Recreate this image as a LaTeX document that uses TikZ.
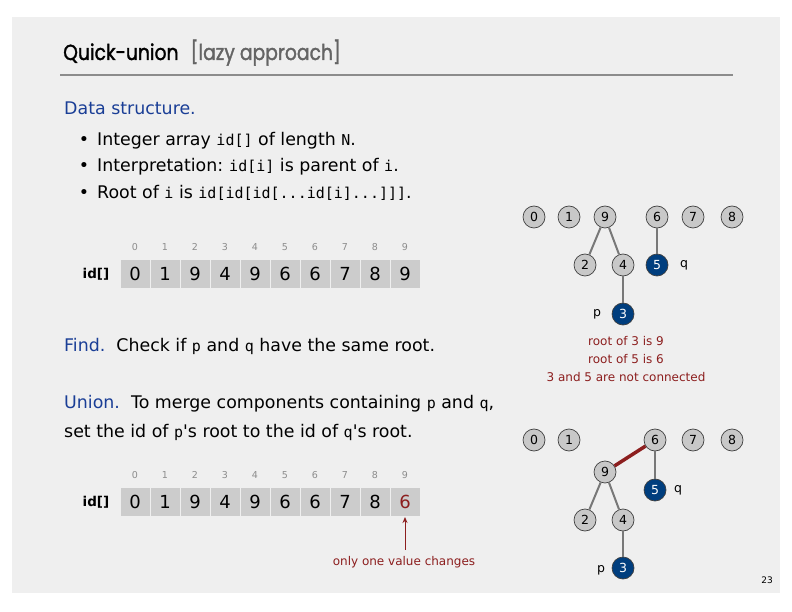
\documentclass[tikz,border=0pt]{standalone}
\usepackage{fontspec}
\setmainfont{DejaVu Sans}
\setmonofont{DejaVu Sans Mono}
\newfontfamily\titlefont{Poppins}[FakeBold=1.5]
\usetikzlibrary{arrows.meta}

\definecolor{slidebg}{RGB}{239,239,239}
\definecolor{headblue}{RGB}{26,62,150}
\definecolor{darkred}{RGB}{140,30,30}
\definecolor{navy}{RGB}{0,62,126}
\definecolor{nodegrey}{RGB}{200,200,200}
\definecolor{cellgrey}{RGB}{204,204,204}
\definecolor{edgegrey}{RGB}{120,120,120}
\definecolor{idxgrey}{RGB}{140,140,140}
\definecolor{titlegrey}{RGB}{100,100,100}
\definecolor{rulegrey}{RGB}{140,140,140}

\newcommand{\cd}[1]{{\ttfamily\fontsize{15}{15}\selectfont #1}}
\newcommand{\bodysize}{\fontsize{17.4}{20}\selectfont}

\tikzset{
  txt/.style={anchor=base west, inner sep=0pt, font=\bodysize},
  bullet/.style={anchor=base, inner sep=0pt, font=\bodysize},
  cell/.style={draw=slidebg, line width=1pt, fill=cellgrey, minimum width=30pt,
    minimum height=29pt, inner sep=0pt, font=\fontsize{18}{18}\selectfont},
  idx/.style={inner sep=0pt, text=idxgrey, font=\fontsize{9.5}{9.5}\selectfont},
  arrlabel/.style={inner sep=0pt, font=\bfseries\fontsize{13.5}{13.5}\selectfont},
  site/.style={circle, draw=black!75, line width=0.7pt, fill=nodegrey,
    minimum size=22pt, inner sep=0pt, font=\fontsize{12.5}{12.5}\selectfont},
  chosen/.style={site, fill=navy, text=white},
  link/.style={draw=edgegrey, line width=2pt},
  newlink/.style={draw=darkred, line width=3.5pt},
  tag/.style={inner sep=0pt, font=\fontsize{12.5}{12.5}\selectfont},
  note/.style={inner sep=0pt, text=darkred, font=\fontsize{12}{12}\selectfont},
}

\begin{document}
\begin{tikzpicture}[x=1pt, y=-1pt]
\useasboundingbox (0,0) rectangle (792,612);
\fill[white] (0,0) rectangle (792,612);
\fill[slidebg] (12,17) rectangle (780,593);

% heading
\node[anchor=base west, inner sep=0pt] (title) at (63,60)
  {\scalebox{0.86}[1]{\titlefont\fontsize{21.8}{21.8}\selectfont Quick-union\hspace{14pt}\textcolor{titlegrey}{[lazy approach]}}};
\draw[rulegrey, line width=1.5pt] (60,75) -- (733,75);

% data structure
\node[txt, text=headblue] (ds) at (64,115) {Data structure.};
\node[bullet] (b1) at (84,146) {\textbullet};
\node[txt] (l1) at (97,146) {Integer array \cd{id[]} of length \cd{N}.};
\node[bullet] (b2) at (84,172) {\textbullet};
\node[txt] (l2) at (97,172) {Interpretation:\hspace{6pt}\cd{id[i]} is parent of \cd{i}.};
\node[bullet] (b3) at (84,199) {\textbullet};
\node[txt] (l3) at (97,199) {Root of \cd{i} is \cd{id[id[id[...id[i]...]]]}.};

% first array
\node[arrlabel] (lab1) at (96,274) {id[]};
\foreach \v [count=\i from 0] in {0,1,9,4,9,6,6,7,8,9} {
  \node[cell] (a\i) at (135+30*\i,274) {\v};
  \node[idx] (ia\i) at (135+30*\i,247) {\i};
}

% find / union text
\node[txt] (find) at (64,351) {\textcolor{headblue}{Find.}\ \ Check if \cd{p} and \cd{q} have the same root.};
\node[txt] (union) at (64,408) {\textcolor{headblue}{Union.}\ \ To merge components containing \cd{p} and \cd{q},};
\node[txt] (union2) at (64,437) {set the id of \cd{p}\textquotesingle s root to the id of \cd{q}\textquotesingle s root.};

% second array
\node[arrlabel] (lab2) at (96,502) {id[]};
\foreach \v [count=\i from 0] in {0,1,9,4,9,6,6,7,8} {
  \node[cell] (b\i) at (135+30*\i,502) {\v};
  \node[idx] (ib\i) at (135+30*\i,475) {\i};
}
\node[cell, text=darkred] (b9) at (405,502) {6};
\node[idx] (ib9) at (405,475) {9};
\node[note] (chg) at (404,562) {only one value changes};
\draw[darkred, line width=1pt, -{Stealth[length=6pt,width=5pt]}] (chg.north -| b9) ++(0,-6) coordinate (tail) (tail) -- (b9.south);

% first forest
\node[site] (s0) at (534,217) {0};
\node[site] (s1) at (569,217) {1};
\node[site] (s9) at (605,217) {9};
\node[site] (s6) at (657,217) {6};
\node[site] (s7) at (693,217) {7};
\node[site] (s8) at (732,217) {8};
\node[site] (s2) at (585,265) {2};
\node[site] (s4) at (623,265) {4};
\node[chosen] (s5) at (657,265) {5};
\node[chosen] (s3) at (623,314) {3};
\node[tag] (q1) at (684,265) {q};
\node[tag] (p1) at (597,314) {p};
\draw[link] (s9) -- (s2);
\draw[link] (s9) -- (s4);
\draw[link] (s4) -- (s3);
\draw[link] (s6) -- (s5);
\node[note] (n1) at (626,341) {root of 3 is 9};
\node[note] (n2) at (626,359) {root of 5 is 6};
\node[note] (n3) at (626,377) {3 and 5 are not connected};

% second forest
\node[site] (t0) at (534,440) {0};
\node[site] (t1) at (569,440) {1};
\node[site] (t6) at (655,440) {6};
\node[site] (t7) at (693,440) {7};
\node[site] (t8) at (732,440) {8};
\node[site] (t9) at (605,472) {9};
\node[chosen] (t5) at (655,490) {5};
\node[site] (t2) at (585,520) {2};
\node[site] (t4) at (623,520) {4};
\node[chosen] (t3) at (623,568) {3};
\node[tag] (q2) at (678,490) {q};
\node[tag] (p2) at (601,570) {p};
\draw[link] (t9) -- (t2);
\draw[link] (t9) -- (t4);
\draw[link] (t4) -- (t3);
\draw[link] (t6) -- (t5);
\draw[newlink] (t9) -- (t6);

% page number
\node[inner sep=0pt, font=\fontsize{9}{9}\selectfont] (pg) at (767,580) {23};
\end{tikzpicture}
\end{document}
